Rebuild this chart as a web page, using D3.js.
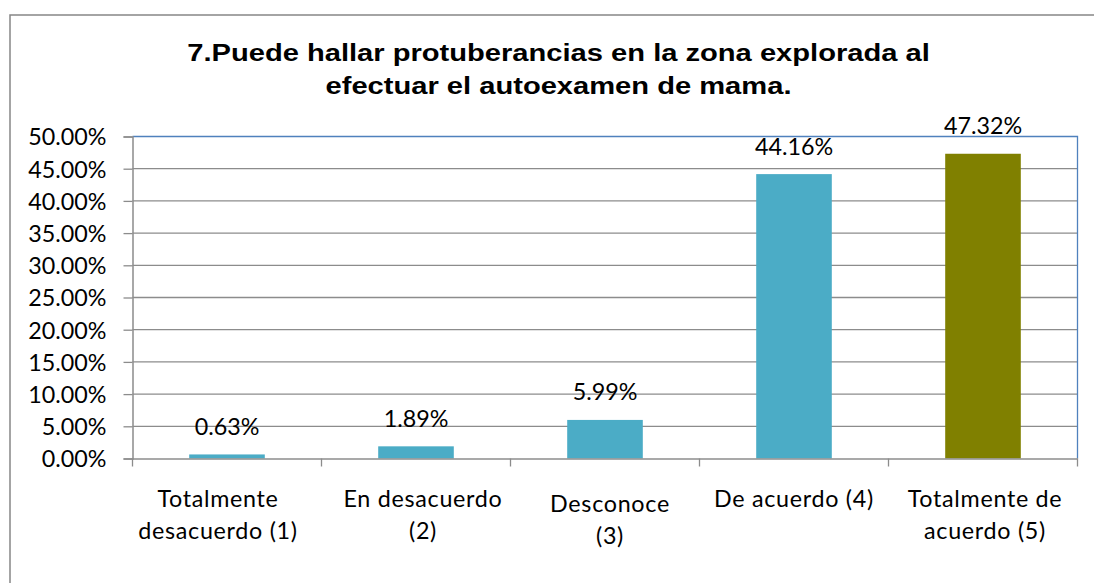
<!DOCTYPE html>
<html>
<head>
<meta charset="utf-8">
<script src="https://cdn.jsdelivr.net/npm/d3@7"></script>
<style>
html,body{margin:0;padding:0;background:#fff;}
svg{display:block;}
</style>
</head>
<body>
<svg id="chart" width="1094" height="583"></svg>
<script>
const categories = [
  ["Totalmente", "desacuerdo (1)"],
  ["En desacuerdo", "(2)"],
  ["Desconoce", "(3)"],
  ["De acuerdo (4)"],
  ["Totalmente de", "acuerdo (5)"]
];
const values = [0.0063, 0.0189, 0.0599, 0.4416, 0.4732];
const valueLabels = ["0.63%", "1.89%", "5.99%", "44.16%", "47.32%"];
const barColors = ["#4BACC6", "#4BACC6", "#4BACC6", "#4BACC6", "#808000"];
const yTicks = [0, 0.05, 0.10, 0.15, 0.20, 0.25, 0.30, 0.35, 0.40, 0.45, 0.50];
const titleLines = ["7.Puede hallar protuberancias en la zona explorada al", "efectuar el autoexamen de mama."];

(function () {
const svg = d3.select("#chart");
const font = "Lato, 'Open Sans', sans-serif";
const fs = 23.3;
const pL = 132.5, pR = 1077.5, pT = 136.5, pB = 458.5;

svg.append("path").attr("d", `M10,583 L10,15 L1094,15`).attr("fill", "none")
  .attr("stroke", "#868686").attr("stroke-width", 1.5);

svg.append("g").attr("transform", "translate(558.5,0) scale(1.25,1)")
  .selectAll("text").data(titleLines).join("text")
  .attr("x", 0).attr("y", (d, i) => 61.5 + i * 33)
  .attr("text-anchor", "middle")
  .attr("font-family", "'Liberation Sans', Arial, sans-serif")
  .attr("font-weight", "bold").attr("font-size", 23.3)
  .attr("fill", "#000").text(d => d);

const x = d3.scaleBand().domain(d3.range(categories.length)).range([pL, pR]).paddingInner(0.6).paddingOuter(0.3);
const xb = d3.scaleBand().domain(d3.range(categories.length)).range([pL, pR]);
const y = d3.scaleLinear().domain([0, 0.5]).range([pB, pT]);

svg.append("g").selectAll("line").data(yTicks.filter(t => t > 0 && t < 0.5)).join("line")
  .attr("x1", pL).attr("x2", pR)
  .attr("y1", d => y(d)).attr("y2", d => y(d))
  .attr("stroke", "#8C8C8C").attr("stroke-width", 1.3);

svg.append("path").attr("d", `M${pL},${y(0.5)} L${pR},${y(0.5)} L${pR},${pB}`)
  .attr("fill", "none").attr("stroke", "#4F81BD").attr("stroke-width", 1.3);

svg.append("g").selectAll("rect").data(values).join("rect")
  .attr("x", (d, i) => x(i)).attr("width", x.bandwidth())
  .attr("y", d => y(d)).attr("height", d => pB - y(d))
  .attr("fill", (d, i) => barColors[i]);

const yAxis = d3.axisLeft(y).tickValues(yTicks).tickFormat(d => (d * 100).toFixed(2) + "%").tickSize(9).tickPadding(17);
const gy = svg.append("g").attr("transform", `translate(${pL},0)`).call(yAxis);
gy.select(".domain").attr("stroke", "#8C8C8C").attr("stroke-width", 1.5);
gy.selectAll(".tick line").attr("stroke", "#8C8C8C").attr("stroke-width", 1.3);
gy.selectAll(".tick text").attr("font-family", font).attr("font-size", fs).attr("fill", "#000")
  .attr("dy", "0.36em");

const xAxis = d3.axisBottom(xb).tickValues([]).tickSize(0);
const gx = svg.append("g").attr("transform", `translate(0,${pB})`).call(xAxis);
gx.select(".domain").attr("stroke", "#8C8C8C").attr("stroke-width", 1.5);
const boundaries = d3.range(categories.length + 1).map(i => i < categories.length ? xb(i) : pR);
gx.selectAll("line.bt").data(boundaries).join("line").attr("class", "bt")
  .attr("x1", d => d).attr("x2", d => d).attr("y1", 0).attr("y2", 8)
  .attr("stroke", "#8C8C8C").attr("stroke-width", 1.3);

const catG = svg.append("g");
const labelShift = [-9, 7, 5, 0, 2];
categories.forEach((lines, i) => {
  const cx = xb(i) + xb.bandwidth() / 2 + labelShift[i];
  const yOff = i === 2 ? 5 : 0;
  catG.append("text").attr("text-anchor", "middle")
    .attr("font-family", font).attr("font-size", fs).attr("fill", "#000")
    .attr("letter-spacing", 0.7)
    .selectAll("tspan").data(lines).join("tspan")
    .attr("x", cx).attr("y", (d, j) => 506.5 + yOff + j * 32.5).text(d => d);
});

svg.append("g").selectAll("text").data(values).join("text")
  .attr("x", (d, i) => x(i) + x.bandwidth() / 2)
  .attr("y", d => y(d) - 19.5)
  .attr("text-anchor", "middle")
  .attr("font-family", font).attr("font-size", fs).attr("fill", "#000")
  .text((d, i) => valueLabels[i]);
})();
</script>
</body>
</html>
